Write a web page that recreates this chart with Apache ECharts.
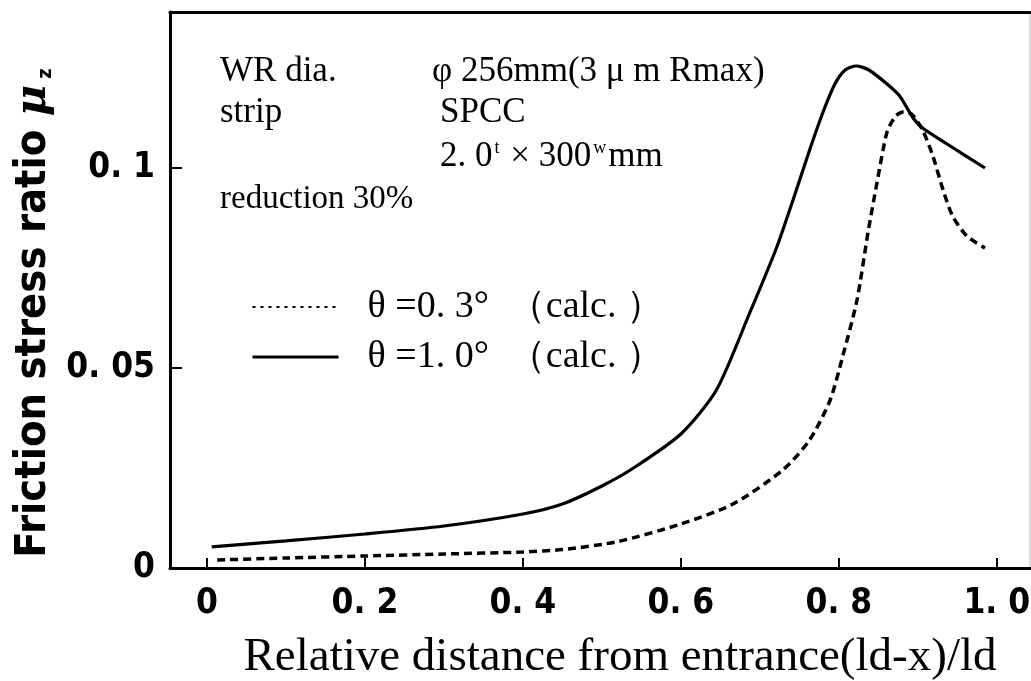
<!DOCTYPE html>
<html>
<head>
<meta charset="utf-8">
<script src="https://cdn.jsdelivr.net/npm/echarts@6/dist/echarts.min.js"></script>
<style>
  html, body { margin: 0; padding: 0; background: #fff; }
  #main { width: 1031px; height: 681px; }
</style>
</head>
<body>
<div id="main"></div>
<script>
var chart = echarts.init(document.getElementById("main"));

// tick positions / labels
var xTicks = [0, 0.2, 0.4, 0.6, 0.8, 1.0];
var xTickLabels = ["0", "0. 2", "0. 4", "0. 6", "0. 8", "1. 0"];
var yTicks = [0, 0.05, 0.1];
var yTickLabels = ["0", "0. 05", "0. 1"];

// theta = 0.3 deg (calc.)  -> dashed
var theta03 = [
  [0.013, 0.0020], [0.1, 0.0025], [0.2, 0.0030], [0.3, 0.0035], [0.4, 0.0040],
  [0.45, 0.0046], [0.52, 0.0066], [0.6, 0.0110], [0.666, 0.0160], [0.729, 0.0245],
  [0.763, 0.0320], [0.789, 0.0420], [0.805, 0.0530], [0.823, 0.0670], [0.837, 0.0840],
  [0.848, 0.0960], [0.861, 0.1090], [0.872, 0.1130], [0.882, 0.1140], [0.892, 0.1135],
  [0.906, 0.1095], [0.919, 0.1030], [0.932, 0.0945], [0.944, 0.0880], [0.962, 0.0830],
  [0.985, 0.0800]
];

// theta = 1.0 deg (calc.)  -> solid
var theta10 = [
  [0.006, 0.0053], [0.1, 0.0068], [0.2, 0.0085], [0.3, 0.0105], [0.4, 0.0135],
  [0.45, 0.0160], [0.5, 0.0205], [0.54, 0.0250], [0.6, 0.0335], [0.645, 0.0445],
  [0.687, 0.0637], [0.721, 0.0800], [0.742, 0.0920], [0.763, 0.1045], [0.78, 0.1140],
  [0.795, 0.1210], [0.808, 0.1245], [0.822, 0.1255], [0.838, 0.1245], [0.861, 0.1210],
  [0.877, 0.1180], [0.894, 0.1125], [0.906, 0.1100], [0.937, 0.1060], [0.985, 0.1000]
];

var sansBold = "'Liberation Sans Narrow', 'DejaVu Sans Condensed', 'DejaVu Sans', sans-serif";
var serif = "'Liberation Serif', 'DejaVu Serif', serif";
var noSymbol = { color: "rgba(0,0,0,0)", borderColor: "rgba(0,0,0,0)", borderWidth: 0, opacity: 0 };

var option = {
  animation: false,
  backgroundColor: "#fff",
  grid: {
    left: 170,
    top: 12,
    right: 1,
    bottom: 113,
    outerBoundsMode: "none",
    containLabel: false,
    show: true,
    borderColor: "#bbb",
    borderWidth: 1
  },
  legend: {
    orient: "vertical",
    left: 246,
    top: 282,
    itemWidth: 86,
    itemHeight: 4,
    itemGap: 10,
    textStyle: {
      fontFamily: serif,
      fontSize: 38,
      color: "#000",
      lineHeight: 40,
      padding: [0, 0, 0, 24]
    },
    data: [
      { name: "θ =0. 3°  （calc. ）", itemStyle: noSymbol, lineStyle: { type: [3, 5], width: 2, color: "#000" } },
      { name: "θ =1. 0°  （calc. ）", itemStyle: noSymbol, lineStyle: { type: "solid", width: 3, color: "#000" } }
    ]
  },
  xAxis: [{
    type: "value",
    min: -0.0468,
    max: 1.042,
    name: "Relative distance from entrance(ld-x)/ld",
    nameLocation: "middle",
    nameGap: 66,
    nameTextStyle: {
      fontFamily: serif,
      fontSize: 47,
      color: "#000",
      padding: [0, 0, 0, 40]
    },
    axisLine: { show: true, onZero: false, lineStyle: { color: "#000", width: 3 } },
    axisTick: { inside: true, length: 10, lineStyle: { color: "#000", width: 2 }, customValues: xTicks },
    axisLabel: {
      customValues: xTicks,
      formatter: function (v) { return xTickLabels[xTicks.indexOf(Math.round(v * 10) / 10)]; },
      fontFamily: sansBold,
      fontWeight: "bold",
      fontSize: 35,
      color: "#000",
      margin: 18
    },
    splitLine: { show: false }
  }, {
    type: "value",
    position: "top",
    min: -0.0468,
    max: 1.042,
    axisLine: { show: true, onZero: false, lineStyle: { color: "#000", width: 3 } },
    axisTick: { show: false },
    axisLabel: { show: false },
    splitLine: { show: false }
  }],
  yAxis: {
    type: "value",
    min: 0,
    max: 0.139,
    name: "Friction stress ratio {mu|μ}{sub|z}",
    nameLocation: "middle",
    nameGap: 112,
    nameTextStyle: {
      fontFamily: sansBold,
      fontWeight: "bold",
      fontSize: 43,
      color: "#000",
      padding: [0, 46, 0, 0],
      rich: {
        mu: { fontFamily: "'DejaVu Serif', serif", fontStyle: "italic", fontWeight: "bold", fontSize: 43, color: "#000" },
        sub: { fontFamily: sansBold, fontWeight: "bold", fontSize: 20, color: "#000", verticalAlign: "bottom", padding: [16, 0, 0, 6] }
      }
    },
    axisLine: { show: true, onZero: false, lineStyle: { color: "#000", width: 3 } },
    axisTick: { inside: true, length: 12, lineStyle: { color: "#000", width: 2 }, customValues: yTicks },
    axisLabel: {
      customValues: yTicks,
      formatter: function (v) { return yTickLabels[yTicks.indexOf(Math.round(v * 100) / 100)]; },
      fontFamily: sansBold,
      fontWeight: "bold",
      fontSize: 35,
      color: "#000",
      margin: 15
    },
    splitLine: { show: false }
  },
  graphic: [
    { type: "text", x: 220, y: 72, style: { text: "WR dia.", font: "35px " + serif, fill: "#000", verticalAlign: "middle" } },
    { type: "text", x: 432, y: 72, style: { text: "φ 256mm(3 μ m Rmax)", font: "35px " + serif, fill: "#000", verticalAlign: "middle" } },
    { type: "text", x: 220, y: 113, style: { text: "strip", font: "35px " + serif, fill: "#000", verticalAlign: "middle" } },
    { type: "text", x: 440, y: 113, style: { text: "SPCC", font: "35px " + serif, fill: "#000", verticalAlign: "middle" } },
    { type: "text", x: 440, y: 157, style: {
      text: "2. 0{sup|t} × 300{sup|w}mm",
      font: "35px " + serif, fill: "#000", verticalAlign: "middle",
      rich: { sup: { fontSize: 18, fontFamily: serif, verticalAlign: "top", padding: [0, 2, 14, 2] } }
    } },
    { type: "text", x: 220, y: 199, style: { text: "reduction 30%", font: "33px " + serif, fill: "#000", verticalAlign: "middle" } }
  ],
  series: [
    {
      name: "θ =0. 3°  （calc. ）",
      type: "line",
      data: theta03,
      symbol: "none",
      smooth: 0.25,
      lineStyle: { color: "#000", width: 3.5, type: [8, 5] },
      itemStyle: { color: "#000" }
    },
    {
      name: "θ =1. 0°  （calc. ）",
      type: "line",
      data: theta10,
      symbol: "none",
      smooth: 0.25,
      lineStyle: { color: "#000", width: 3.2, type: "solid" },
      itemStyle: { color: "#000" }
    }
  ]
};

chart.setOption(option);
</script>
</body>
</html>
